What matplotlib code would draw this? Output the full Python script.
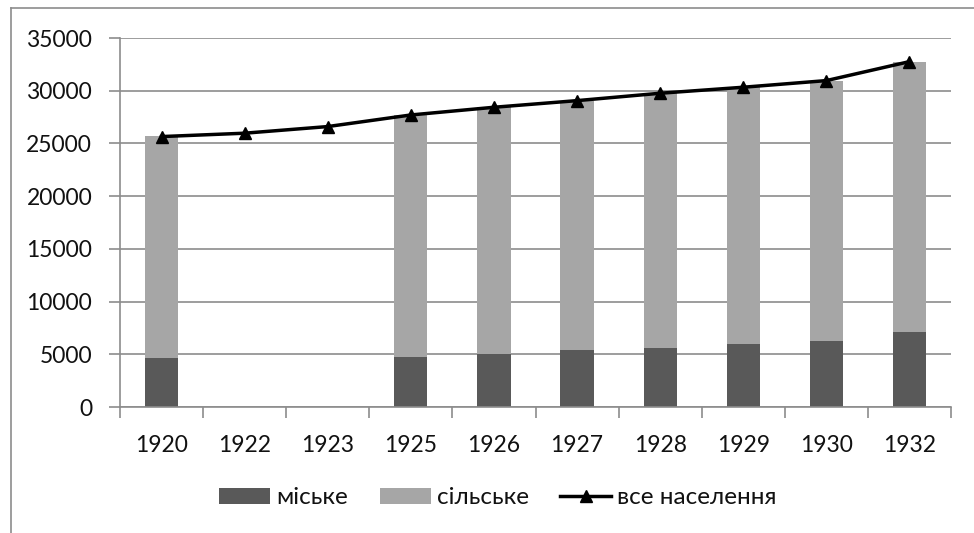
import matplotlib
matplotlib.use("Agg")
import matplotlib.pyplot as plt
from matplotlib.lines import Line2D
import numpy as np

years = ["1920", "1922", "1923", "1925", "1926", "1927", "1928", "1929", "1930", "1932"]
urban = [4680, np.nan, np.nan, 4770, 5000, 5410, 5630, 5980, 6260, 7090]
rural = [21000, np.nan, np.nan, 22950, 23430, 23650, 24130, 24350, 24700, 25670]
total = [25650, 25970, 26600, 27700, 28430, 29060, 29760, 30330, 30960, 32760]
yticks = [0, 5000, 10000, 15000, 20000, 25000, 30000, 35000]

plt.rcParams['font.family'] = ['Lato', 'DejaVu Sans']

W, H = 974, 533
fig = plt.figure(figsize=(W / 100, H / 100), dpi=100)
ax = fig.add_axes([120 / W, (H - 407) / H, 831 / W, 369 / H])

x = np.arange(len(years))
u = np.nan_to_num(np.array(urban, dtype=float))
r = np.nan_to_num(np.array(rural, dtype=float))
b1 = ax.bar(x, u, width=0.4, color="#595959", label="міське", zorder=2)
b2 = ax.bar(x, r, width=0.4, bottom=u, color="#a6a6a6", label="сільське", zorder=2)
l1, = ax.plot(x, total, color="black", lw=2.5, marker="^", markersize=9,
              label="все населення", zorder=3)

ax.set_xlim(-0.5, len(years) - 0.5)
ax.set_ylim(0, 35000)
ax.set_yticks(yticks)
ax.set_yticklabels([str(v) for v in yticks])
ax.yaxis.grid(True, color="#8c8c8c", lw=1.2, zorder=0)
ax.set_axisbelow(True)

ax.set_xticks(x)
ax.set_xticklabels(years)
ax.set_xticks(np.arange(-0.5, len(years), 1.0), minor=True)
ax.tick_params(axis="x", which="major", length=0, pad=20, labelsize=16.5, colors="#111111")
ax.tick_params(axis="x", which="minor", length=8, width=1.2, color="#8c8c8c", direction="out")
ax.tick_params(axis="y", length=8, width=1.2, color="#8c8c8c", pad=12, labelsize=16.5,
               labelcolor="#111111")
for s in ["top", "right"]:
    ax.spines[s].set_visible(False)
for s in ["left", "bottom"]:
    ax.spines[s].set_color("#8c8c8c")
    ax.spines[s].set_linewidth(1.2)

leg = fig.legend([b1, b2, l1], ["міське", "сільське", "все населення"],
                 loc="center", bbox_to_anchor=(498 / W, (H - 498) / H), ncol=3,
                 frameon=False, fontsize=17.5, handlelength=2.1, handleheight=0.6,
                 columnspacing=1.3, handletextpad=0.25)
for t in leg.get_texts():
    t.set_color("#111111")

fig.add_artist(Line2D([11 / W, 11 / W], [0, (H - 8) / H], color="#8c8c8c", lw=1.2))
fig.add_artist(Line2D([11 / W, 1], [(H - 8) / H, (H - 8) / H], color="#8c8c8c", lw=1.2))

fig.savefig("out.png", dpi=100)
